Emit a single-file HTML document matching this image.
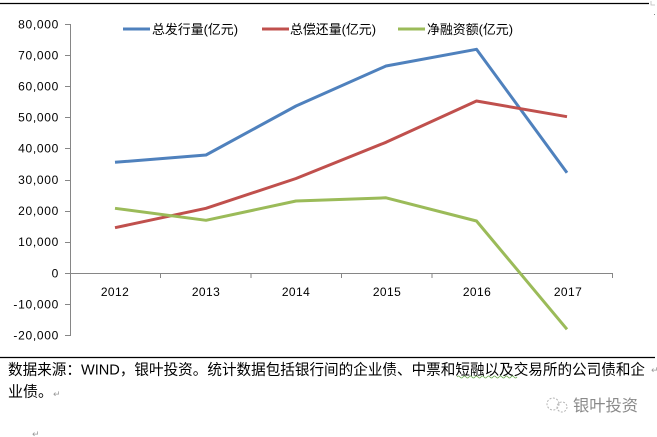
<!DOCTYPE html>
<html><head><meta charset="utf-8"><style>
html,body{margin:0;padding:0;background:#fff;}
body{width:657px;height:437px;overflow:hidden;}
svg{display:block;}
</style></head><body>
<svg width="657" height="437" viewBox="0 0 657 437" xmlns="http://www.w3.org/2000/svg">
<rect width="657" height="437" fill="#fff"/>
<!-- top border -->
<line x1="0" y1="3.5" x2="649" y2="3.5" stroke="#000" stroke-width="1.3"/>
<path d="M651 1 L651 5 L655 5" stroke="#bbb" stroke-width="0.8" fill="none"/>
<rect x="654" y="14" width="1" height="1" fill="#888"/>

<!-- axes -->
<g stroke="#868686" stroke-width="1" fill="none">
<line x1="70.5" y1="24" x2="70.5" y2="336"/>
<line x1="70" y1="273.5" x2="613" y2="273.5"/>
<line x1="65" y1="24.5" x2="70" y2="24.5"/>
<line x1="65" y1="55.5" x2="70" y2="55.5"/>
<line x1="65" y1="86.5" x2="70" y2="86.5"/>
<line x1="65" y1="117.5" x2="70" y2="117.5"/>
<line x1="65" y1="148.5" x2="70" y2="148.5"/>
<line x1="65" y1="180.5" x2="70" y2="180.5"/>
<line x1="65" y1="211.5" x2="70" y2="211.5"/>
<line x1="65" y1="242.5" x2="70" y2="242.5"/>
<line x1="65" y1="273.5" x2="70" y2="273.5"/>
<line x1="65" y1="304.5" x2="70" y2="304.5"/>
<line x1="65" y1="335.5" x2="70" y2="335.5"/>
<line x1="160.5" y1="273.5" x2="160.5" y2="278"/>
<line x1="251" y1="273.5" x2="251" y2="278"/>
<line x1="341.5" y1="273.5" x2="341.5" y2="278"/>
<line x1="432" y1="273.5" x2="432" y2="278"/>
<line x1="522.5" y1="273.5" x2="522.5" y2="278"/>
<line x1="612.5" y1="273.5" x2="612.5" y2="278"/>
</g>

<g font-family="'Liberation Sans', 'DejaVu Sans', sans-serif" font-size="12" fill="#000" text-anchor="end" letter-spacing="0.7">
<text x="59" y="28.5">80,000</text>
<text x="59" y="59.5">70,000</text>
<text x="59" y="90.5">60,000</text>
<text x="59" y="121.5">50,000</text>
<text x="59" y="152.5">40,000</text>
<text x="59" y="184">30,000</text>
<text x="59" y="215">20,000</text>
<text x="59" y="246">10,000</text>
<text x="59" y="277.5">0</text>
<text x="59" y="308.5">-10,000</text>
<text x="59" y="339.5">-20,000</text>
</g>
<g font-family="'Liberation Sans', 'DejaVu Sans', sans-serif" font-size="12" fill="#000" text-anchor="middle" letter-spacing="0.4">
<text x="115" y="296">2012</text>
<text x="206" y="296">2013</text>
<text x="296" y="296">2014</text>
<text x="387" y="296">2015</text>
<text x="477" y="296">2016</text>
<text x="568" y="296">2017</text>
</g>

<!-- series -->
<g fill="none" stroke-width="3" stroke-linejoin="round" stroke-linecap="butt">
<polyline stroke="#4F81BD" points="115,162.3 206,155 296,106 386,66 476.5,49.3 567,172.7"/>
<polyline stroke="#C0504D" points="115,227.7 206,208.3 296,178.5 386,142.3 476.5,101 567,116.7"/>
<polyline stroke="#9BBB59" points="115,208.3 206,220.3 296,201 386,197.8 476.5,221 567,329.3"/>
</g>

<!-- legend -->
<g stroke-width="3">
<line x1="123" y1="29" x2="150" y2="29" stroke="#4F81BD"/>
<line x1="262" y1="29" x2="289" y2="29" stroke="#C0504D"/>
<line x1="398" y1="29" x2="425" y2="29" stroke="#9BBB59"/>
</g>
<g font-family="'Liberation Sans', 'Noto Sans CJK SC', sans-serif" font-size="13" fill="#000">
<text x="152" y="34" textLength="86" lengthAdjust="spacingAndGlyphs">总发行量(亿元)</text>
<text x="290" y="34" textLength="86" lengthAdjust="spacingAndGlyphs">总偿还量(亿元)</text>
<text x="427" y="34" textLength="86" lengthAdjust="spacingAndGlyphs">净融资额(亿元)</text>
</g>

<!-- bottom text -->
<line x1="0" y1="357.5" x2="655" y2="357.5" stroke="#000" stroke-width="1.2"/>
<g font-family="'Liberation Sans', 'Noto Sans CJK SC', sans-serif" font-size="15" fill="#000">
<text x="8" y="374.5" textLength="637" lengthAdjust="spacingAndGlyphs">数据来源：WIND，银叶投资。统计数据包括银行间的企业债、中票和短融以及交易所的公司债和企</text>
<text x="8" y="396.5">业债。</text>
</g>
<g font-family="'DejaVu Sans', sans-serif" font-size="9" fill="#999">
<text x="53" y="397">↵</text>
<text x="32" y="437">↵</text>
<text x="651" y="373">↵</text>
</g>
<path d="M457 377 q1.5 -2 3 0 t3 0 t3 0 t3 0 t3 0 t3 0 t3 0 t3 0 t3 0 t3 0 t3 0 t3 0 t3 0 t3 0 t3 0 t3 0 t3 0 t3 0 t3 0 t3 0" stroke="#6aa84f" stroke-width="0.8" fill="none"/>

<!-- watermark -->
<g stroke="#b5b5b5" stroke-width="1" fill="none" stroke-dasharray="2 1.5">
<circle cx="553" cy="404" r="6"/>
<circle cx="562" cy="407" r="5"/>
</g>
<text x="573" y="411" font-family="'Liberation Sans', 'Noto Sans CJK SC', sans-serif" font-size="16" fill="#8a8a8a" textLength="65" lengthAdjust="spacingAndGlyphs">银叶投资</text>
</svg>
</body></html>
